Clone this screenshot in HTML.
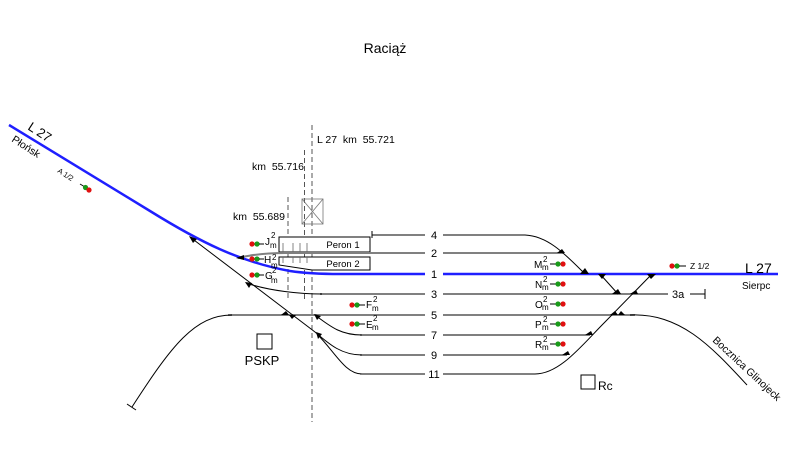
<!DOCTYPE html>
<html>
<head>
<meta charset="utf-8">
<style>
html,body{margin:0;padding:0;background:#fff;}
svg{display:block;}
text{font-family:"Liberation Sans",Arial,sans-serif;fill:#000;}
</style>
</head>
<body>
<svg width="786" height="449" viewBox="0 0 786 449" xmlns="http://www.w3.org/2000/svg">
<rect width="786" height="449" fill="#fff"/>

<!-- Title -->
<text x="385" y="53" font-size="14" text-anchor="middle">Raciąż</text>

<!-- dashed km lines -->
<g stroke="#555" stroke-width="1" stroke-dasharray="5,3" fill="none">
  <line x1="288" y1="197" x2="288" y2="300"/>
  <line x1="304.5" y1="150" x2="304.5" y2="300"/>
  <line x1="312" y1="125" x2="312" y2="422"/>
</g>

<!-- km labels -->
<text x="317" y="143" font-size="10.5">L 27&#160;&#160;km&#160;&#160;55.721</text>
<text x="252" y="170" font-size="10.5">km&#160;&#160;55.716</text>
<text x="233" y="220" font-size="10.5">km&#160;&#160;55.689</text>

<!-- box with X -->
<g stroke="#777" stroke-width="0.8" fill="none">
  <rect x="302" y="199" width="21" height="25"/>
  <line x1="302" y1="199" x2="323" y2="224"/>
  <line x1="323" y1="199" x2="302" y2="224"/>
</g>

<!-- Platforms -->
<g stroke="#000" stroke-width="1" fill="#fff">
  <rect x="279" y="237" width="91" height="15"/>
  <polygon points="279,257 370,257 370,270 312,270 279,265"/>
</g>
<text x="343" y="248" font-size="9.5" text-anchor="middle">Peron 1</text>
<text x="343" y="267" font-size="9.5" text-anchor="middle">Peron 2</text>

<!-- small ticks between platforms -->
<g stroke="#666" stroke-width="0.8">
  <line x1="283" y1="243" x2="283" y2="252"/>
  <line x1="293" y1="243" x2="293" y2="252"/>
  <line x1="300" y1="243" x2="300" y2="252"/>
  <line x1="307" y1="243" x2="307" y2="252"/>
  <line x1="283" y1="257" x2="283" y2="263"/>
  <line x1="293" y1="257" x2="293" y2="263"/>
  <line x1="300" y1="257" x2="300" y2="263"/>
  <line x1="307" y1="257" x2="307" y2="263"/>
</g>

<!-- Gray main tracks -->
<g stroke="#808080" stroke-width="2" fill="none">
  <!-- track 2 -->
  <path d="M 238,258 C 250,255 265,253 285,253 L 425,253"/>
  <line x1="443" y1="253" x2="563" y2="253"/>
  <!-- track 3 -->
  <line x1="320" y1="294" x2="425" y2="294"/>
  <line x1="443" y1="294" x2="668" y2="294"/>
  <line x1="690" y1="294" x2="705" y2="294"/>
  <!-- track 5 -->
  <line x1="228" y1="315" x2="425" y2="315"/>
  <line x1="443" y1="315" x2="635" y2="315"/>
</g>
<g stroke="#555" stroke-width="1.5" fill="none">
  <line x1="360" y1="335" x2="425" y2="335"/>
  <line x1="443" y1="335" x2="590" y2="335"/>
  <line x1="360" y1="355" x2="425" y2="355"/>
  <line x1="443" y1="355" x2="567" y2="355"/>
</g>

<!-- Black thin lines -->
<g stroke="#000" stroke-width="1" fill="none">
  <!-- track 4 -->
  <line x1="372" y1="235" x2="425" y2="235"/>
  <line x1="372" y1="231" x2="372" y2="238"/>
  <path d="M 443,235 L 525,235 C 548,236 565,254 585,274"/>
  <!-- track 11 -->
  <line x1="360" y1="374" x2="425" y2="374"/>
  <path d="M 443,374 L 535,374 C 560,374 582,345 605,322 L 652,274"/>
  <!-- crossover 1 -> 3 -->
  <line x1="600" y1="274" x2="618" y2="294"/>
  <!-- 3a end -->
  <line x1="705" y1="289" x2="705" y2="299"/>
  <!-- bocznica -->
  <path d="M 630,315 C 680,313 710,345 747,385"/>
  <!-- left diagonal -->
  <path d="M 190,237 L 315,332 C 330,345 342,355 362,355"/>
  <!-- branch to 11 -->
  <path d="M 317,334 C 335,352 345,374 362,374"/>
  <!-- branch to 7 -->
  <path d="M 315,315 C 332,328 342,335 362,335"/>
  <!-- branch to 3 -->
  <path d="M 246,283 C 270,291 300,294 322,294"/>
  <!-- track 5 left curve -->
  <path d="M 132,407 C 172,345 195,315 232,315"/>
  <line x1="127" y1="404" x2="136" y2="410"/>
</g>

<!-- Blue line L27 -->
<g stroke="#1f1fff" stroke-width="2.5" fill="none">
  <path d="M 9,125 L 150,211 C 200,242 240,262 290,271 Q 310,274 340,274 L 425,274"/>
  <line x1="443" y1="274" x2="778" y2="274"/>
</g>

<!-- arrowheads -->
<g fill="#000">
  <polygon points="189,236 197,239 193,243"/>
  <polygon points="236,258 244,255 244,260"/>
  <polygon points="245,282 252,283 249,288"/>
  <polygon points="281,315 289,315 286,311"/>
  <polygon points="289,315 296,315 292,319"/>
  <polygon points="314,314 321,316 317,320"/>
  <polygon points="316,332 322,334 318,339"/>
  <polygon points="557,253 565,253 562,249"/>
  <polygon points="580,274 589,274 585,268"/>
  <polygon points="598,274 606,274 602,279"/>
  <polygon points="612,294 621,294 618,289"/>
  <polygon points="630,294 638,294 636,290"/>
  <polygon points="647,274 656,274 651,279"/>
  <polygon points="610,315 618,315 615,311"/>
  <polygon points="618,315 625,315 621,311"/>
  <polygon points="585,335 593,335 591,331"/>
  <polygon points="562,355 570,355 568,351"/>
</g>

<!-- track numbers -->
<g font-size="11" text-anchor="middle">
  <text x="434" y="239">4</text>
  <text x="434" y="257">2</text>
  <text x="434" y="278">1</text>
  <text x="434" y="298">3</text>
  <text x="434" y="319">5</text>
  <text x="434" y="339">7</text>
  <text x="434" y="359">9</text>
  <text x="434" y="378">11</text>
</g>
<text x="672" y="298" font-size="11">3a</text>

<!-- Left labels -->
<text x="0" y="0" font-size="13" transform="translate(27,129) rotate(33)">L 27</text>
<text x="0" y="0" font-size="10.5" transform="translate(11,141) rotate(33)">Płońsk</text>
<text x="0" y="0" font-size="7.5" transform="translate(57,172) rotate(33)">A 1/2</text>
<line x1="80" y1="184" x2="85" y2="187" stroke="#000" stroke-width="1"/>
<circle cx="85.5" cy="187.5" r="2.6" fill="#1a9a1a"/>
<circle cx="89" cy="190" r="2.6" fill="#e01010"/>

<!-- Right labels -->
<text x="745" y="273" font-size="14">L 27</text>
<text x="742" y="289" font-size="10">Sierpc</text>
<text x="0" y="0" font-size="10.5" transform="translate(712,341) rotate(43)">Bocznica Glinojeck</text>

<!-- Z 1/2 signal -->
<circle cx="672" cy="266" r="2.6" fill="#e01010"/>
<circle cx="677" cy="266" r="2.6" fill="#1a9a1a"/>
<line x1="679" y1="266" x2="686" y2="266" stroke="#000" stroke-width="1"/>
<text x="690" y="269" font-size="8.5">Z 1/2</text>

<!-- Left signals J, H, G -->
<g>
  <circle cx="252" cy="244" r="2.6" fill="#e01010"/>
  <circle cx="257" cy="244" r="2.6" fill="#1a9a1a"/>
  <line x1="259" y1="244" x2="264" y2="244" stroke="#000" stroke-width="1"/>
  <text x="265" y="245" font-size="10">J</text>
  <text x="271" y="238" font-size="8">2</text>
  <text x="270" y="248" font-size="8">m</text>

  <circle cx="252" cy="259" r="2.6" fill="#e01010"/>
  <circle cx="257" cy="259" r="2.6" fill="#1a9a1a"/>
  <line x1="259" y1="259" x2="264" y2="259" stroke="#000" stroke-width="1"/>
  <text x="264" y="263" font-size="10">H</text>
  <text x="272" y="260" font-size="8">2</text>
  <text x="271" y="268" font-size="8">m</text>

  <circle cx="252" cy="275" r="2.6" fill="#e01010"/>
  <circle cx="257" cy="275" r="2.6" fill="#1a9a1a"/>
  <line x1="259" y1="275" x2="264" y2="275" stroke="#000" stroke-width="1"/>
  <text x="265" y="279" font-size="10">G</text>
  <text x="272" y="273" font-size="8">2</text>
  <text x="271" y="283" font-size="8">m</text>
</g>

<!-- F, E signals -->
<g>
  <circle cx="352" cy="305" r="2.6" fill="#e01010"/>
  <circle cx="357" cy="305" r="2.6" fill="#1a9a1a"/>
  <line x1="359" y1="305" x2="365" y2="305" stroke="#000" stroke-width="1"/>
  <text x="366" y="308" font-size="10">F</text>
  <text x="373" y="302" font-size="8">2</text>
  <text x="372" y="311" font-size="8">m</text>

  <circle cx="352" cy="324" r="2.6" fill="#e01010"/>
  <circle cx="357" cy="324" r="2.6" fill="#1a9a1a"/>
  <line x1="359" y1="324" x2="365" y2="324" stroke="#000" stroke-width="1"/>
  <text x="366" y="328" font-size="10">E</text>
  <text x="373" y="321" font-size="8">2</text>
  <text x="372" y="330" font-size="8">m</text>
</g>

<!-- Right signals M N O P R -->
<g font-size="10">
  <text x="534" y="268">M</text>
  <text x="543" y="262" font-size="8">2</text>
  <text x="542" y="270" font-size="8">m</text>
  <text x="535" y="288">N</text>
  <text x="543" y="282" font-size="8">2</text>
  <text x="542" y="290" font-size="8">m</text>
  <text x="535" y="308">O</text>
  <text x="543" y="302" font-size="8">2</text>
  <text x="542" y="310" font-size="8">m</text>
  <text x="535" y="328">P</text>
  <text x="543" y="322" font-size="8">2</text>
  <text x="542" y="330" font-size="8">m</text>
  <text x="535" y="348">R</text>
  <text x="543" y="342" font-size="8">2</text>
  <text x="542" y="350" font-size="8">m</text>
</g>
<g stroke="#000" stroke-width="1">
  <line x1="550" y1="264" x2="556" y2="264"/>
  <line x1="550" y1="284" x2="556" y2="284"/>
  <line x1="550" y1="304" x2="556" y2="304"/>
  <line x1="550" y1="324" x2="556" y2="324"/>
  <line x1="550" y1="344" x2="556" y2="344"/>
</g>
<g>
  <circle cx="558" cy="264" r="2.6" fill="#1a9a1a"/><circle cx="563" cy="264" r="2.6" fill="#e01010"/>
  <circle cx="558" cy="284" r="2.6" fill="#1a9a1a"/><circle cx="563" cy="284" r="2.6" fill="#e01010"/>
  <circle cx="558" cy="304" r="2.6" fill="#1a9a1a"/><circle cx="563" cy="304" r="2.6" fill="#e01010"/>
  <circle cx="558" cy="324" r="2.6" fill="#1a9a1a"/><circle cx="563" cy="324" r="2.6" fill="#e01010"/>
  <circle cx="558" cy="344" r="2.6" fill="#1a9a1a"/><circle cx="563" cy="344" r="2.6" fill="#e01010"/>
</g>

<!-- PSKP -->
<rect x="257" y="334" width="15" height="15" fill="none" stroke="#000" stroke-width="1"/>
<text x="262" y="365" font-size="13" text-anchor="middle">PSKP</text>

<!-- Rc -->
<rect x="581" y="375" width="14" height="14" fill="none" stroke="#000" stroke-width="1"/>
<text x="598" y="390" font-size="12">Rc</text>

</svg>
</body>
</html>
